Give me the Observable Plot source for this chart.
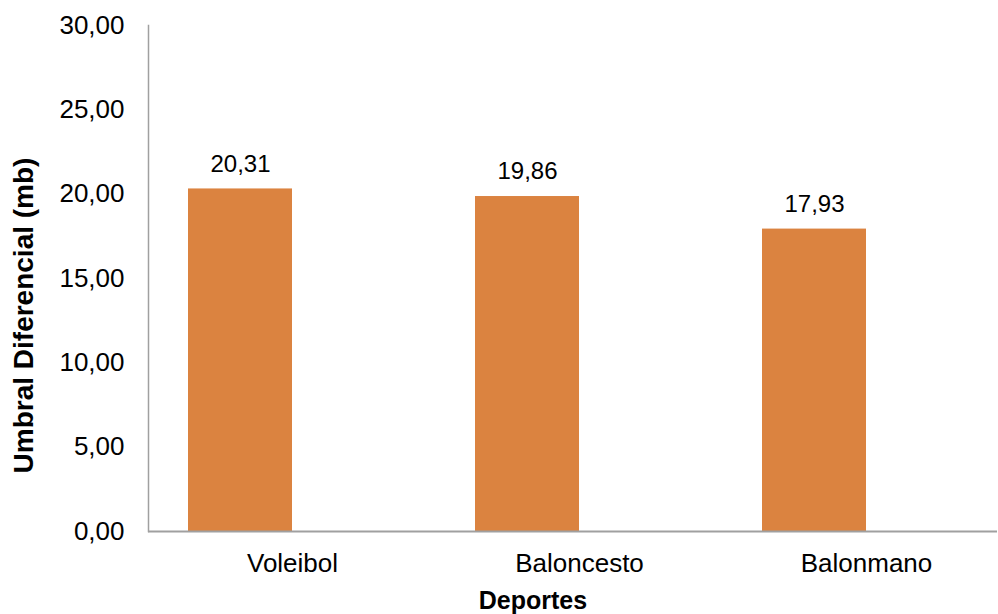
<!DOCTYPE html>
<html>
<head>
<meta charset="utf-8">
<script src="https://cdn.jsdelivr.net/npm/d3@7"></script>
<script src="https://cdn.jsdelivr.net/npm/@observablehq/plot@0.6"></script>
<style>
  html, body { margin: 0; padding: 0; background: #fff; }
  #chart svg { display: block; }
</style>
</head>
<body>
<div id="chart"></div>
<script>
// Umbral diferencial medio por deporte
const deportes = ["Voleibol", "Baloncesto", "Balonmano"];
const umbral = [20.31, 19.86, 17.93];
const yTicks = [0, 5, 10, 15, 20, 25, 30];

const rows = deportes.map((d, i) => ({deporte: d, valor: umbral[i]}));
const fmt = v => v.toFixed(2).replace(".", ",");
const axisGray = "#a0a0a0";
const barColor = "#db8340";

const chart = Plot.plot({
  width: 998,
  height: 614,
  marginLeft: 148,
  marginRight: 1,
  marginTop: 25,
  marginBottom: 83,
  style: {fontFamily: "'Liberation Sans', Arial, sans-serif", fontSize: "26px", color: "#000", background: "#fff"},
  x: {domain: deportes, range: [96.5, 957.5], paddingInner: 0.636, paddingOuter: 0.318, align: 0.5},
  y: {domain: [0, 30]},
  marks: [
    Plot.barY(rows, {x: "deporte", y: "valor", fill: barColor}),
    Plot.frame({anchor: "left", stroke: axisGray, strokeWidth: 1.5}),
    Plot.ruleY([0], {stroke: axisGray, strokeWidth: 2}),
    Plot.axisY({ticks: yTicks, tickFormat: fmt, tickSize: 0, tickPadding: 24, label: null}),
    // category labels sit centred on each bar's right edge
    Plot.axisX({tickSize: 0, tickPadding: 22, dx: 52, label: null}),
    Plot.text(rows, {x: "deporte", y: "valor", text: d => fmt(d.valor), dy: -25, fontSize: 24, fill: "#000"}),
    Plot.text(["Umbral Diferencial (mb)"], {frameAnchor: "left", textAnchor: "middle", lineAnchor: "middle", dx: -124, dy: 37, rotate: -90, fontWeight: "bold", fontSize: 28, fill: "#000"}),
    Plot.text(["Deportes"], {frameAnchor: "bottom", textAnchor: "middle", lineAnchor: "middle", dx: -40, dy: 69, fontWeight: "bold", fontSize: 25, fill: "#000"})
  ]
});

document.getElementById("chart").appendChild(chart);
</script>
</body>
</html>
